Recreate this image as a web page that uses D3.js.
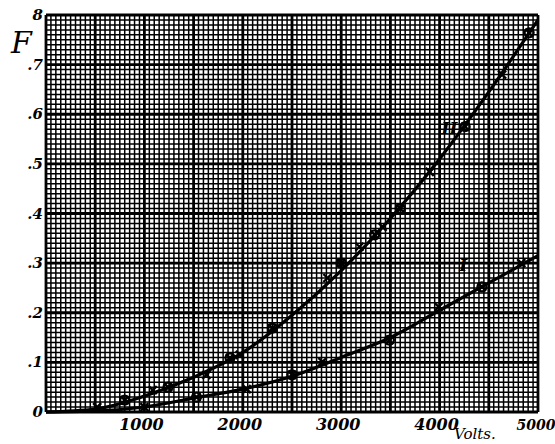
<!DOCTYPE html>
<html>
<head>
<meta charset="utf-8">
<script src="https://cdn.jsdelivr.net/npm/d3@7"></script>
<style>
  body { margin: 0; background: #fff; }
  svg text { font-family: "DejaVu Serif", serif; font-style: italic; fill: #000; }
</style>
</head>
<body>
<svg id="chart" width="555" height="444"></svg>
<script>
// tick labels
var xTicks = [1000, 2000, 3000, 4000, 5000];
var yTicks = [0, 0.1, 0.2, 0.3, 0.4, 0.5, 0.6, 0.7, 0.8];
var yTickLabels = ["0", ".1", ".2", ".3", ".4", ".5", ".6", ".7", "8"];

// smooth curves as drawn on the sheet (volts, F)
var curveIVolts = [0, 500, 1000, 1500, 2000, 2500, 3000, 3500, 4000, 4500, 5000];
var curveIF     = [0, 0.002, 0.01, 0.028, 0.046, 0.072, 0.11, 0.15, 0.205, 0.26, 0.315];
var curveIIVolts = [0, 500, 1000, 1500, 2000, 2500, 3000, 3500, 4000, 4500, 5000];
var curveIIF     = [0, 0.006, 0.032, 0.07, 0.12, 0.195, 0.285, 0.39, 0.51, 0.645, 0.79];

// observed points, curve I
var pointsIVolts = [1000, 1530, 2040, 2500, 2810, 3490, 3990, 4430, 4830];
var pointsIF     = [0.01, 0.03, 0.046, 0.075, 0.101, 0.145, 0.212, 0.252, 0.3];
// observed points, curve II
var pointsIIVolts = [520, 800, 1085, 1240, 1630, 1870, 1970, 2300, 2860, 3000, 3185, 3340, 3420, 3600, 3900, 4260, 4635, 4910];
var pointsIIF     = [0.01, 0.024, 0.044, 0.05, 0.075, 0.109, 0.115, 0.169, 0.27, 0.3, 0.333, 0.357, 0.373, 0.41, 0.484, 0.575, 0.68, 0.764];

var svg = d3.select("#chart");

var x = d3.scaleLinear().domain([0, 5000]).range([46, 538]);
var y = d3.scaleLinear().domain([0, 0.8]).range([412, 15]);

//graph paper
var g = svg.append("g");
var fineX = d3.range(0, 5001, 50);
var fineY = d3.range(0, 81, 1).map(function(d){ return d / 100; });

g.selectAll("line.vx").data(fineX).enter().append("line")
  .attr("x1", function(d){ return x(d); }).attr("x2", function(d){ return x(d); })
  .attr("y1", y(0)).attr("y2", y(0.8))
  .attr("stroke", "#000")
  .attr("stroke-width", function(d){ return d % 500 === 0 ? 2.8 : 1.5; });

g.selectAll("line.hy").data(fineY).enter().append("line")
  .attr("y1", function(d){ return y(d); }).attr("y2", function(d){ return y(d); })
  .attr("x1", x(0)).attr("x2", x(5000))
  .attr("stroke", "#000")
  .attr("stroke-width", function(d, i){ return i % 10 === 0 ? 2.8 : 1.5; });

// curves
var line = d3.line()
  .x(function(d){ return x(d[0]); })
  .y(function(d){ return y(d[1]); })
  .curve(d3.curveMonotoneX);

svg.append("path")
  .attr("d", line(d3.zip(curveIVolts, curveIF)))
  .attr("fill", "none").attr("stroke", "#000").attr("stroke-width", 3.2);
svg.append("path")
  .attr("d", line(d3.zip(curveIIVolts, curveIIF)))
  .attr("fill", "none").attr("stroke", "#000").attr("stroke-width", 3.2);

// point marks, little crosses with a ring every other one
function marks(vs, fs) {
  var pts = d3.zip(vs, fs);
  var m = svg.append("g").selectAll("g").data(pts).enter().append("g")
    .attr("transform", function(d){ return "translate(" + x(d[0]) + "," + y(d[1]) + ")"; });
  m.append("path").attr("d", "M-4,-4L4,4M-4,4L4,-4")
    .attr("stroke", "#000").attr("stroke-width", 2.4);
  m.filter(function(d, i){ return i % 2 === 1; }).append("circle")
    .attr("r", 4.5).attr("fill", "none").attr("stroke", "#000").attr("stroke-width", 2.2);
}
marks(pointsIVolts, pointsIF);
marks(pointsIIVolts, pointsIIF);

// axis labels
svg.selectAll("text.xt").data(xTicks).enter().append("text")
  .attr("x", function(d){ return d === 5000 ? x(d) - 2 : x(d) - 3; })
  .attr("y", 430)
  .attr("text-anchor", "middle")
  .attr("font-size", function(d){ return d === 5000 ? 14 : 16; })
  .attr("font-weight", "bold")
  .text(function(d){ return d; });

svg.selectAll("text.yt").data(yTicks).enter().append("text")
  .attr("x", 43)
  .attr("y", function(d){ return y(d) + 5; })
  .attr("text-anchor", "end")
  .attr("font-size", 15)
  .attr("font-weight", "bold")
  .text(function(d, i){ return yTickLabels[i]; });

svg.append("text").attr("x", 11).attr("y", 53)
  .attr("font-size", 30).text("F");
svg.append("text").attr("x", 454).attr("y", 439)
  .attr("font-size", 15).text("Volts.");

// curve names
svg.append("text").attr("x", x(4200)).attr("y", y(0.285))
  .attr("font-size", 17).attr("font-weight", "bold").text("I");
svg.append("text").attr("x", x(4020)).attr("y", y(0.56))
  .attr("font-size", 17).attr("font-weight", "bold").text("II");
</script>
</body>
</html>
